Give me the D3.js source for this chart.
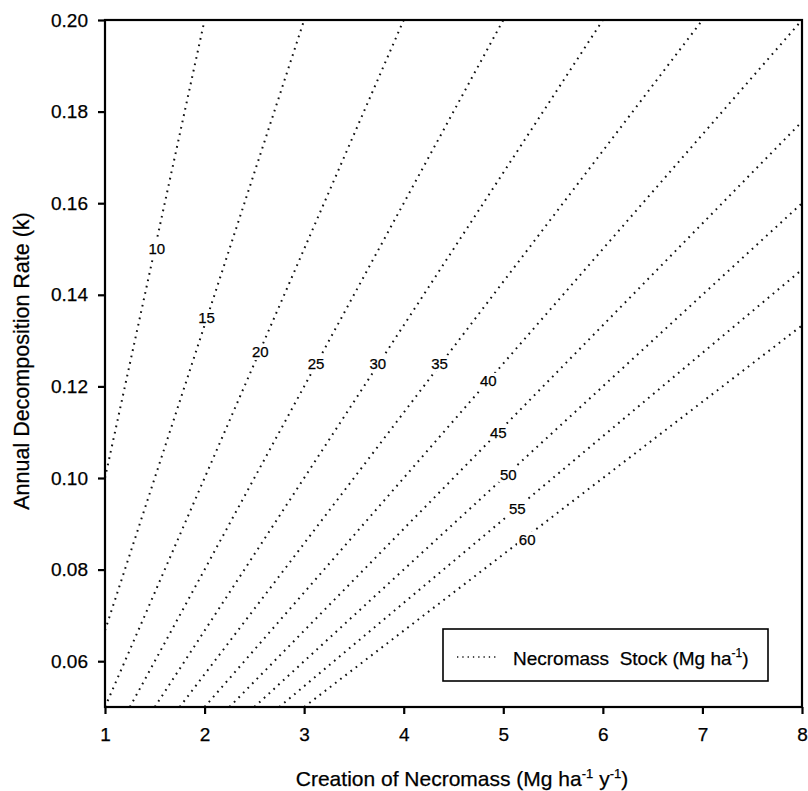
<!DOCTYPE html>
<html>
<head>
<meta charset="utf-8">
<script src="https://cdn.jsdelivr.net/npm/d3@7"></script>
<style>
  body { margin: 0; background: #fff; }
  svg { display: block; font-family: Arial, "Liberation Sans", sans-serif; }
  text { stroke: #000; stroke-width: 0.25px; }
</style>
</head>
<body>
<svg id="chart" width="808" height="791"></svg>
<script>
// Necromass stock isolines (Mg ha-1): each line runs between two end points
const stockLevels = [10, 15, 20, 25, 30, 35, 40, 45, 50, 55, 60];
const lineStarts = [[1, 0.100], [1, 0.0667], [1, 0.050], [1.25, 0.050], [1.5, 0.050], [1.75, 0.050],
                    [2, 0.050], [2.25, 0.050], [2.5, 0.050], [2.75, 0.050], [3, 0.050]];
const lineEnds   = [[2, 0.200], [3, 0.200], [4, 0.200], [5, 0.200], [6, 0.200], [7, 0.200],
                    [8, 0.200], [8, 0.1778], [8, 0.160], [8, 0.1455], [8, 0.1333]];
// where each isoline carries its value label
const labelPoints = [[1.52, 0.150], [2.02, 0.135], [2.56, 0.1275], [3.12, 0.125], [3.74, 0.125],
                     [4.36, 0.125], [4.85, 0.1212], [4.95, 0.110], [5.05, 0.1008], [5.14, 0.0934], [5.24, 0.0866]];

const xTicks = [1, 2, 3, 4, 5, 6, 7, 8];
const yTicks = [0.06, 0.08, 0.10, 0.12, 0.14, 0.16, 0.18, 0.20];

const svg = d3.select("#chart");
const plotLeft = 105, plotRight = 802, plotTop = 20, plotBottom = 707;

const x = d3.scaleLinear().domain([1, 8]).range([plotLeft, plotRight]);
const y = d3.scaleLinear().domain([0.05, 0.20]).range([plotBottom, plotTop]);

// isolines
const lineGen = d3.line().x(d => x(d[0])).y(d => y(d[1]));
const plot = svg.append("g");
stockLevels.forEach((s, i) => {
  plot.append("path")
    .attr("d", lineGen([lineStarts[i], lineEnds[i]]))
    .attr("fill", "none")
    .attr("stroke", "#111")
    .attr("stroke-width", 2)
    .attr("stroke-dasharray", "1.7 4.8");
});

// inline labels with a white knock-out behind them
stockLevels.forEach((s, i) => {
  const cx = x(labelPoints[i][0]), cy = y(labelPoints[i][1]);
  const g = plot.append("g").attr("transform", `translate(${cx},${cy})`);
  g.append("rect").attr("x", -10).attr("y", -8).attr("width", 20).attr("height", 16).attr("fill", "#fff");
  g.append("text")
    .attr("text-anchor", "middle")
    .attr("dy", "0.36em")
    .attr("font-size", 15)
    .attr("fill", "#000")
    .text(s);
});

// frame
svg.append("rect")
  .attr("x", plotLeft).attr("y", plotTop)
  .attr("width", plotRight - plotLeft).attr("height", plotBottom - plotTop)
  .attr("fill", "none").attr("stroke", "#000").attr("stroke-width", 2.2);

// axes
const xAxis = svg.append("g").attr("transform", `translate(0,${plotBottom})`)
  .call(d3.axisBottom(x).tickValues(xTicks).tickFormat(d3.format("d")).tickSize(7).tickPadding(14));
const yAxis = svg.append("g").attr("transform", `translate(${plotLeft},0)`)
  .call(d3.axisLeft(y).tickValues(yTicks).tickFormat(d3.format(".2f")).tickSize(7).tickPadding(10));
[xAxis, yAxis].forEach(a => {
  a.select(".domain").remove();
  a.selectAll(".tick line").attr("stroke", "#000").attr("stroke-width", 2.2);
  a.selectAll(".tick text").attr("font-size", 19).attr("fill", "#000")
    .attr("font-family", "Arial, 'Liberation Sans', sans-serif");
});

// axis titles
const xt = svg.append("text")
  .attr("x", 462).attr("y", 786)
  .attr("text-anchor", "middle").attr("font-size", 21).attr("fill", "#000");
xt.append("tspan").text("Creation of Necromass (Mg ha");
xt.append("tspan").attr("dy", -8).attr("font-size", 13).text("-1");
xt.append("tspan").attr("dy", 8).text(" y");
xt.append("tspan").attr("dy", -8).attr("font-size", 13).text("-1");
xt.append("tspan").attr("dy", 8).text(")");

svg.append("text")
  .attr("transform", `translate(29,361) rotate(-90)`)
  .attr("text-anchor", "middle").attr("font-size", 21.5).attr("fill", "#000")
  .text("Annual Decomposition Rate (k)");

// legend
const lg = svg.append("g").attr("transform", "translate(443,629)");
lg.append("rect").attr("width", 325).attr("height", 52)
  .attr("fill", "#fff").attr("stroke", "#000").attr("stroke-width", 1.6);
lg.append("line").attr("x1", 14).attr("x2", 54).attr("y1", 28).attr("y2", 28)
  .attr("stroke", "#111").attr("stroke-width", 1.4).attr("stroke-dasharray", "1.3 4");
const lt = lg.append("text").attr("x", 70).attr("y", 36).attr("font-size", 19).attr("fill", "#000");
lt.append("tspan").text("Necromass\u00a0 Stock (Mg ha");
lt.append("tspan").attr("dy", -8).attr("font-size", 12).text("-1");
lt.append("tspan").attr("dy", 8).text(")");
</script>
</body>
</html>
